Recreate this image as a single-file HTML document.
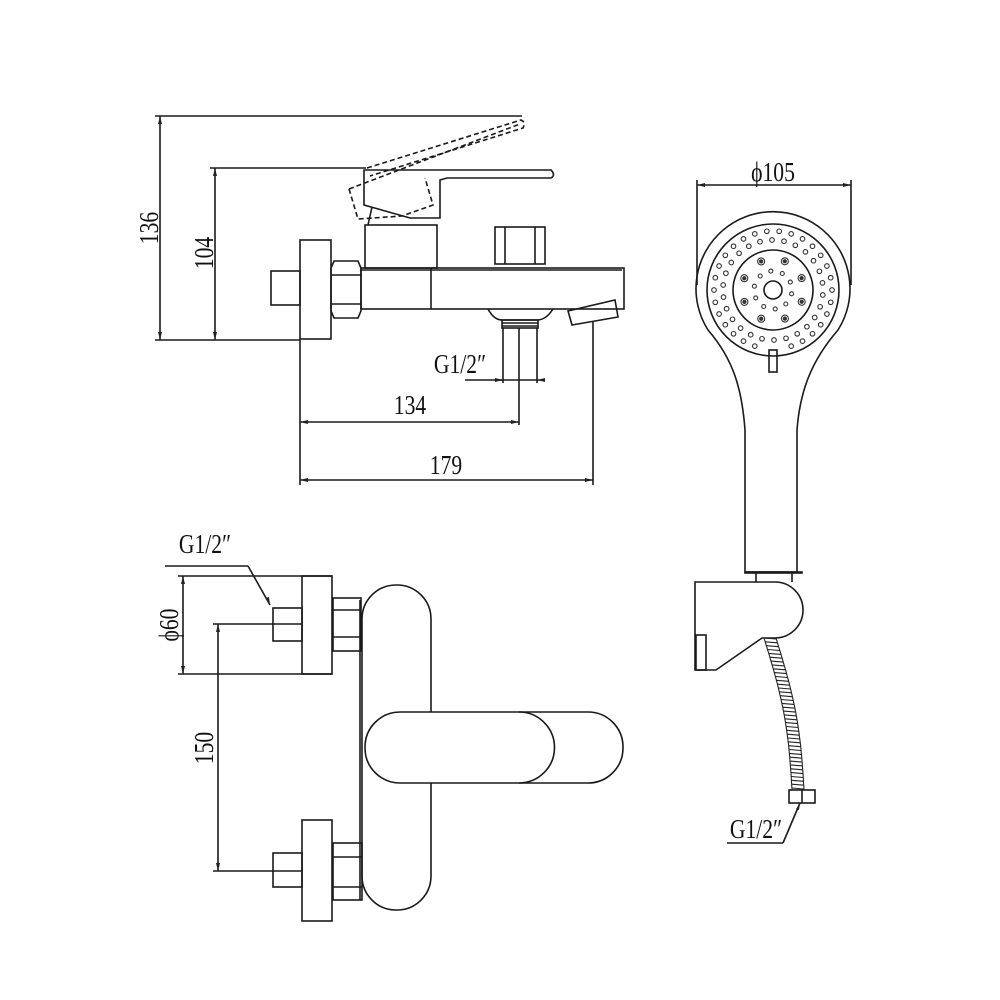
<!DOCTYPE html>
<html><head><meta charset="utf-8"><style>
html,body{margin:0;padding:0;background:#fff}
svg{display:block}
text{font-family:"Liberation Serif",serif;fill:#111}
</style></head><body>
<svg id="s" width="1000" height="1000" viewBox="0 0 1000 1000" xmlns="http://www.w3.org/2000/svg">
<g fill="none" stroke="#1a1a1a" stroke-width="1.6">
<!-- ===== TOP VIEW ===== -->
<line x1="155" y1="116" x2="522" y2="116"/>
<line x1="160" y1="116" x2="160" y2="340"/>
<line x1="155" y1="340" x2="300" y2="340"/>
<line x1="210" y1="168" x2="366" y2="168"/>
<line x1="215" y1="168" x2="215" y2="340"/>
<rect x="300" y="240" width="31" height="99"/>
<rect x="271" y="271" width="29" height="34"/>
<path d="M334,261 H358 L361,268 V311 L358,318 H334 L331,311 V268 Z"/>
<line x1="331" y1="275" x2="361" y2="275"/>
<line x1="331" y1="304" x2="361" y2="304"/>
<rect x="361" y="268" width="263" height="41"/>
<line x1="361" y1="270" x2="622" y2="270"/>
<line x1="431" y1="268" x2="431" y2="309"/>
<rect x="365" y="225" width="72" height="43"/>
<rect x="495" y="227" width="50" height="37"/>
<line x1="505" y1="227" x2="505" y2="264"/>
<line x1="535" y1="227" x2="535" y2="264"/>
<path d="M364,170 L364,205 L410,218 L440,218 L440,180 L447,178 H551 Q556,175 551,170 Z"/>
<line x1="372" y1="207" x2="368" y2="225"/>
<g stroke-dasharray="5,3">
<path d="M367,168 L521,120 Q526,122 523,128 L370,176"/>
<path d="M349,189 L520,124"/>
<path d="M349,189 L358,219 L402,216 L433,205 L425,178"/>
</g>
<path d="M488,309 Q494,320 502,320 H537 Q546,320 553,309"/>
<rect x="502" y="320" width="36" height="8"/>
<line x1="502" y1="323" x2="538" y2="323"/>
<line x1="502" y1="326" x2="538" y2="326"/>
<line x1="503" y1="328" x2="503" y2="383"/>
<line x1="519" y1="328" x2="519" y2="425"/>
<line x1="537" y1="328" x2="537" y2="383"/>
<line x1="495" y1="380" x2="545" y2="380"/>
<line x1="465" y1="380" x2="503" y2="380"/>
<path d="M568,311 L615,300 L618,317 L572,325 Z"/>
<line x1="593" y1="322" x2="593" y2="485"/>
<line x1="300" y1="340" x2="300" y2="485"/>
<line x1="300" y1="422" x2="519" y2="422"/>
<line x1="300" y1="480" x2="593" y2="480"/>

<!-- ===== FRONT VIEW ===== -->
<line x1="165" y1="566" x2="248" y2="566"/>
<line x1="248" y1="566" x2="270" y2="605"/>
<line x1="178" y1="576" x2="332" y2="576"/>
<line x1="178" y1="674" x2="332" y2="674"/>
<line x1="183" y1="576" x2="183" y2="674"/>
<rect x="302" y="576" width="30" height="98"/>
<rect x="273" y="608" width="29" height="33"/>
<rect x="333" y="598" width="28" height="53"/>
<line x1="333" y1="610" x2="361" y2="610"/>
<line x1="333" y1="637" x2="361" y2="637"/>
<line x1="213" y1="624" x2="302" y2="624"/>
<line x1="213" y1="871" x2="302" y2="871"/>
<line x1="218" y1="624" x2="218" y2="871"/>
<rect x="362" y="585" width="69" height="325" rx="34" ry="34"/>
<line x1="360" y1="600" x2="360" y2="900"/>
<rect x="365" y="712" width="258" height="71" rx="35" ry="35" fill="#fff"/>
<path d="M519,712 A35,35 0 0 1 519,783"/>
<rect x="302" y="820" width="30" height="101"/>
<rect x="273" y="853" width="29" height="34"/>
<rect x="333" y="843" width="29" height="57"/>
<line x1="333" y1="857" x2="362" y2="857"/>
<line x1="333" y1="887" x2="362" y2="887"/>

<!-- ===== SHOWER ===== -->
<line x1="697" y1="180" x2="697" y2="285"/>
<line x1="851" y1="180" x2="851" y2="285"/>
<line x1="697" y1="185" x2="851" y2="185"/>
<path d="M708,330 A77,77 0 1 1 838,330 C812,360 800,390 797,430 L797,572 H745 L745,430 C742,390 734,360 708,330 Z"/>
<circle cx="773" cy="290" r="66"/>
<circle cx="773" cy="290" r="40"/>
<circle cx="773" cy="290" r="9"/>
<rect x="769" y="350" width="8" height="22"/>
<rect x="745" y="572" width="57" height="1"/>
<line x1="756" y1="573" x2="756" y2="582"/>
<line x1="792" y1="573" x2="792" y2="582"/>
<path d="M695,582 H775 A28,28 0 0 1 775,638 H762 L716,670 H695 Z"/>
<rect x="696" y="635" width="10" height="35"/>
<rect x="789" y="790" width="26" height="13"/>
<line x1="802" y1="790" x2="802" y2="803"/>
<line x1="727" y1="843" x2="783" y2="843"/>
<line x1="783" y1="843" x2="800" y2="803"/>
</g>
<g id="hose" fill="none" stroke="#222" stroke-width="1.1"></g>
<g id="dots" fill="none" stroke="#333" stroke-width="1.1"></g>
<g fill="#222">
<path d="M160,116 l-2,8 h4z"/><path d="M160,340 l-2,-8 h4z"/>
<path d="M215,168 l-2,8 h4z"/><path d="M215,340 l-2,-8 h4z"/>
<path d="M300,422 l8,-2 v4z"/><path d="M519,422 l-8,-2 v4z"/>
<path d="M300,480 l8,-2 v4z"/><path d="M593,480 l-8,-2 v4z"/>
<path d="M503,380 l-8,-2 v4z"/><path d="M537,380 l8,-2 v4z"/>
<path d="M183,576 l-2,8 h4z"/><path d="M183,674 l-2,-8 h4z"/>
<path d="M218,624 l-2,8 h4z"/><path d="M218,871 l-2,-8 h4z"/>
<path d="M697,185 l8,-2 v4z"/><path d="M851,185 l-8,-2 v4z"/>
<path d="M270,605 l-4,-7 3,-1z"/><path d="M800,803 l-1,7 -3,-1z"/>
</g>
<g font-size="27">
<text transform="translate(158,228) rotate(-90) scale(0.8,1)" text-anchor="middle">136</text>
<text transform="translate(213,253) rotate(-90) scale(0.8,1)" text-anchor="middle">104</text>
<text transform="translate(460,373) scale(0.8,1)" text-anchor="middle">G1/2″</text>
<text transform="translate(410,414) scale(0.8,1)" text-anchor="middle">134</text>
<text transform="translate(446,474) scale(0.8,1)" text-anchor="middle">179</text>
<text transform="translate(205,553) scale(0.8,1)" text-anchor="middle">G1/2″</text>
<text transform="translate(178,625) rotate(-90) scale(0.8,1)" text-anchor="middle">ϕ60</text>
<text transform="translate(213,748) rotate(-90) scale(0.8,1)" text-anchor="middle">150</text>
<text transform="translate(773,181) scale(0.8,1)" text-anchor="middle">ϕ105</text>
<text transform="translate(756,838) scale(0.8,1)" text-anchor="middle">G1/2″</text>
</g>
</svg>
<script>
var NS="http://www.w3.org/2000/svg",d=document.getElementById("dots"),h=document.getElementById("hose");
function c(x,y,r,f){var e=document.createElementNS(NS,"circle");e.setAttribute("cx",x);e.setAttribute("cy",y);e.setAttribute("r",r);if(f)e.setAttribute("fill",f);d.appendChild(e);}
function ring(R,n,r,off,f){for(var i=0;i<n;i++){var a=off+i*2*Math.PI/n;var x=773+R*Math.cos(a),y=290+R*Math.sin(a);if(y>340&&Math.abs(x-773)<8)continue;c(x.toFixed(1),y.toFixed(1),r);if(f)c(x.toFixed(1),y.toFixed(1),r*0.45,"#333");}}
ring(59,30,2.3,0);ring(50,26,2.3,0.1);ring(31,8,3.5,0.39,1);ring(19,10,2,0.2);
function hx(t){return 770+28*t+6*Math.sin(Math.PI*t);}
for(var i=0;i<40;i++){var t=i/39;var y=638+t*150;var x=hx(t);var l=document.createElementNS(NS,"line");l.setAttribute("x1",(x-6).toFixed(1));l.setAttribute("x2",(x+6).toFixed(1));l.setAttribute("y1",y.toFixed(1));l.setAttribute("y2",(y+1).toFixed(1));h.appendChild(l);}
var p=document.createElementNS(NS,"path"),q=document.createElementNS(NS,"path"),s1="",s2="";
for(var i=0;i<=40;i++){var t=i/40;var y=638+t*152;var x=hx(t);s1+=(i?"L":"M")+(x-6).toFixed(1)+","+y.toFixed(1);s2+=(i?"L":"M")+(x+6).toFixed(1)+","+y.toFixed(1);}
p.setAttribute("d",s1);q.setAttribute("d",s2);h.appendChild(p);h.appendChild(q);
</script>
</body></html>
